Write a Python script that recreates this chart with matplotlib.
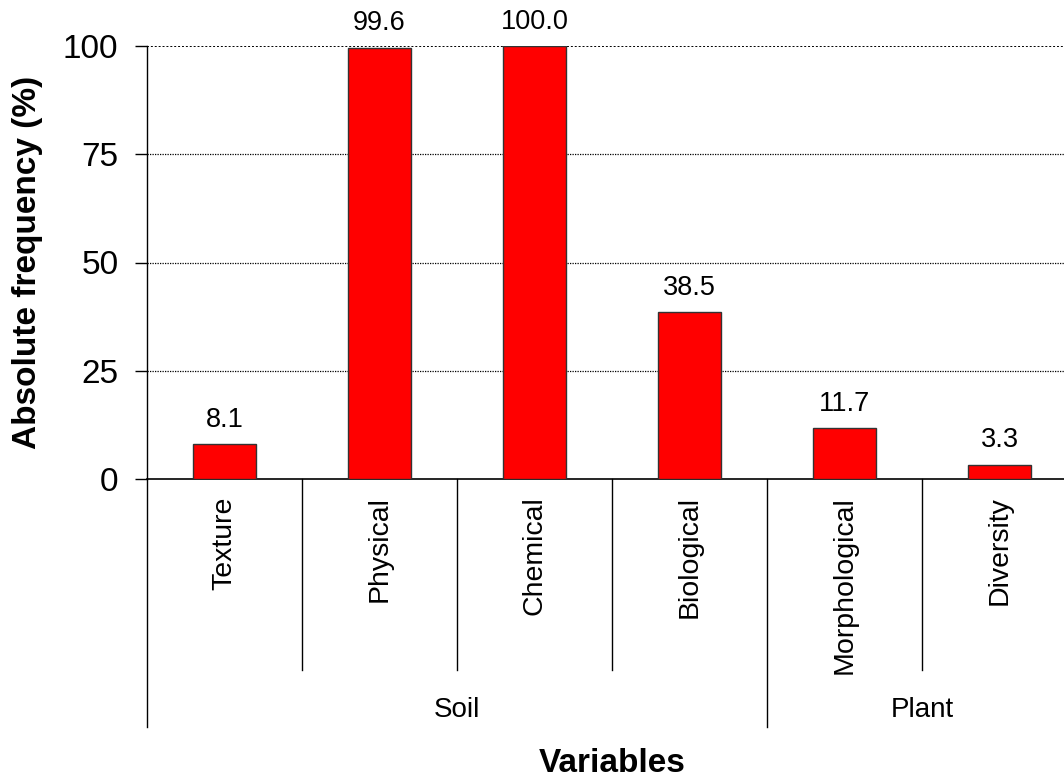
import matplotlib
matplotlib.use("Agg")
import matplotlib.pyplot as plt

categories = ["Texture", "Physical", "Chemical", "Biological", "Morphological", "Diversity"]
values = [8.1, 99.6, 100.0, 38.5, 11.7, 3.3]
groups = ["Soil", "Plant"]
group_sizes = [4, 2]
yticks = [0, 25, 50, 75, 100]

plt.rcParams['font.family'] = ['Liberation Sans', 'DejaVu Sans']

W, H = 1064, 780
fig = plt.figure(figsize=(W / 100, H / 100), dpi=100)
left_px, right_px, top_px, bot_px = 147, 1077, 46, 479
ax = fig.add_axes([left_px / W, 1 - bot_px / H, (right_px - left_px) / W, (bot_px - top_px) / H])

x = list(range(len(categories)))
bars = ax.bar(x, values, width=0.41, color="#FF0000", edgecolor="#333333", linewidth=1.0, zorder=3)
for xi, v in zip(x, values):
    ax.text(xi, v + 2.6, f"{v:.1f}", ha="center", va="bottom", fontsize=19.5)

ax.set_xlim(-0.5, len(categories) - 0.5)
ax.set_ylim(0, 100)
ax.set_yticks(yticks)
ax.tick_params(axis="y", labelsize=24, length=8.6, width=1, direction="out", pad=12)
ax.set_xticks([])
for yt in yticks[1:]:
    ax.axhline(yt, color="black", linestyle=(0, (1, 1)), linewidth=0.9 if yt < 100 else 1.4, zorder=1)

for s in ["top", "right"]:
    ax.spines[s].set_visible(False)
ax.spines["left"].set_linewidth(1.0)
ax.spines["bottom"].set_linewidth(1.2)

tr = ax.get_xaxis_transform()
# category labels
for xi, c in zip(x, categories):
    ax.text(xi, -0.04, c, rotation=90, ha="center", va="top", fontsize=20.5, transform=tr)

# dividers
bounds = [-0.5]
for s in group_sizes:
    bounds.append(bounds[-1] + s)
group_bounds = set(bounds)
for b in [i - 0.5 for i in range(len(categories) + 1)]:
    y_end = -0.573 if b in group_bounds else -0.441
    ax.plot([b, b], [0, y_end], color="black", linewidth=1.0, transform=tr, clip_on=False)

for g, a, b in zip(groups, bounds[:-1], bounds[1:]):
    ax.text((a + b) / 2, -0.533, g, ha="center", va="center", fontsize=20, transform=tr)

fig.text(28 / W, 1 - 262 / H, "Absolute frequency (%)", rotation=90, ha="center", va="center",
         fontsize=24, fontweight="bold")
fig.text(612 / W, 1 - 763 / H, "Variables", ha="center", va="center", fontsize=24, fontweight="bold")

fig.savefig("out.png", dpi=100)
